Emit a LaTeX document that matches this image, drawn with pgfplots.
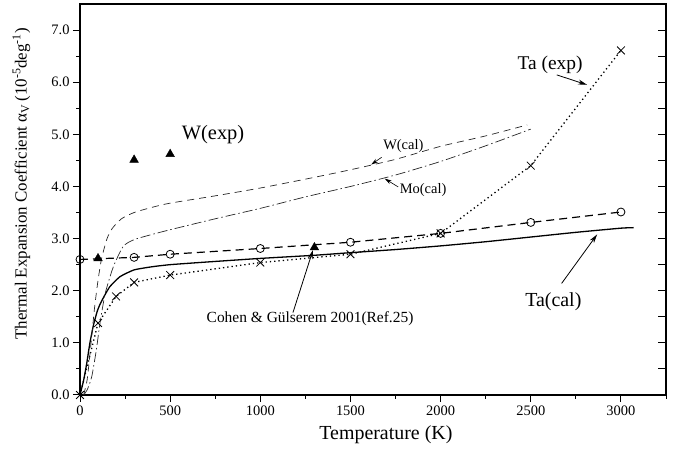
\documentclass[border=0pt]{standalone}
\usepackage{pgfplots}
\pgfplotsset{compat=1.18}
\usepackage{fontspec}
\setmainfont{Liberation Serif}
\usetikzlibrary{arrows.meta}

\begin{document}
\begin{tikzpicture}[x=1bp,y=1bp]
\useasboundingbox (0,0) rectangle (675,450);
\begin{axis}[
  at={(80bp,55bp)}, anchor=south west,
  scale only axis, width=586bp, height=391bp,
  xmin=0, xmax=3250, ymin=0, ymax=7.5,
  xtick={0,500,...,3000}, minor xtick={250,750,...,3250},
  ytick={0,1,...,7}, minor ytick={0.5,1.5,...,6.5},
  xtick pos=bottom, ytick pos=left, tick align=outside,
  major tick length=7bp, minor tick length=4bp,
  axis line style={line width=1.6bp},
  every tick/.style={black, line width=1bp},
  tick label style={font=\fontsize{14.5}{16}\selectfont},
  /pgf/number format/assume math mode=true,
  xticklabel style={/pgf/number format/1000 sep={}},
  yticklabel style={/pgf/number format/fixed, /pgf/number format/fixed zerofill, /pgf/number format/precision=1},
  xlabel={Temperature (K)},
  xlabel style={font=\fontsize{20}{22}\selectfont, at={(axis description cs:0.522,-0.102)}, anchor=center},
  ylabel={Thermal Expansion Coefficient α\textsubscript{V}\,(10\textsuperscript{-5}deg\textsuperscript{-1})},
  ylabel style={font=\fontsize{17}{19}\selectfont, at={(axis description cs:-0.1,0.54)}, anchor=center},
  clip=false,
]
% Ta(cal) solid
\addplot[black, line width=1.3bp, smooth, tension=0.3] coordinates {
 (0,0) (20,0.28) (37,0.6) (55,1.0) (74,1.33) (95,1.6) (111,1.74) (135,1.9) (166,2.08) (222,2.27) (300,2.40) (400,2.46) (500,2.50) (700,2.55) (1000,2.62) (1300,2.68) (1500,2.73) (1750,2.79) (2000,2.86) (2250,2.94) (2500,3.03) (2750,3.12) (3000,3.20) (3070,3.21)};
% Ta exp (circles), dashed
\addplot[black, line width=1.2bp, dash pattern=on 8bp off 5bp, mark=o, mark size=4bp, mark options={solid, fill=white, line width=0.8bp}] coordinates {
 (0,2.60) (300,2.64) (500,2.70) (1000,2.81) (1500,2.93) (2000,3.10) (2500,3.31) (3000,3.51)};
% Ta exp (crosses), dotted
\addplot[black, line width=1.3bp, dash pattern=on 1.3bp off 3bp, mark=x, mark size=5.5bp, mark options={solid, line width=0.8bp}] coordinates {
 (0,0) (100,1.38) (200,1.89) (300,2.16) (500,2.30) (1000,2.54) (1500,2.70) (2000,3.10) (2500,4.40) (3000,6.61)};
% W(cal) thin dashed
\addplot[black!85, line width=0.7bp, dash pattern=on 7bp off 5bp, smooth, tension=0.4] coordinates {
 (20,0) (40,0.3) (60,0.95) (80,1.65) (100,2.2) (120,2.62) (150,3.0) (180,3.2) (230,3.38) (300,3.5) (400,3.6) (500,3.68) (750,3.82) (1000,3.97) (1250,4.14) (1500,4.32) (1750,4.52) (2000,4.77) (2250,4.97) (2480,5.18)};
% Mo(cal) dash-dot
\addplot[black!85, line width=0.7bp, dash pattern=on 10bp off 3bp on 1.5bp off 3bp, smooth, tension=0.4] coordinates {
 (20,0) (40,0.1) (65,0.35) (90,0.85) (111,1.38) (140,1.95) (185,2.46) (240,2.85) (300,2.98) (400,3.08) (500,3.17) (750,3.38) (1000,3.58) (1250,3.80) (1500,4.0) (1750,4.22) (2000,4.48) (2250,4.78) (2500,5.10)};
% W(exp) triangles
\addplot[only marks, mark=triangle*, mark size=5bp, black] coordinates {(100,2.62) (300,4.51) (500,4.62)};
% Cohen & Gulserem
\addplot[only marks, mark=triangle*, mark size=5bp, black] coordinates {(1300,2.83)};

\node[font=\fontsize{20.5}{22}\selectfont] at (axis cs:738,4.99) {W(exp)};
\node[font=\fontsize{14.5}{16}\selectfont] at (axis cs:1793,4.77) {W(cal)};
\draw[-{Stealth[length=7bp,width=4bp]}, line width=0.6bp] (axis cs:1673,4.56) -- (axis cs:1615,4.42);
\node[font=\fontsize{14.5}{16}\selectfont] at (axis cs:1903,3.93) {Mo(cal)};
\draw[-{Stealth[length=7bp,width=4bp]}, line width=0.6bp] (axis cs:1765,3.99) -- (axis cs:1690,4.15);
\node[font=\fontsize{19.5}{21}\selectfont] at (axis cs:2607,6.33) {Ta (exp)};
\draw[-{Stealth[length=9bp,width=5bp]}, line width=0.8bp] (axis cs:2644,6.14) -- (axis cs:2812,5.95);
\node[font=\fontsize{20}{22}\selectfont] at (axis cs:2625,1.79) {Ta(cal)};
\draw[-{Stealth[length=9bp,width=5bp]}, line width=0.8bp] (axis cs:2671,2.14) -- (axis cs:2868,3.08);
\node[font=\fontsize{15.5}{17}\selectfont] at (axis cs:1276,1.46) {Cohen \& Gülserem 2001(Ref.25)};
\draw[-{Stealth[length=9bp,width=5bp]}, line width=0.8bp] (axis cs:1181,1.58) -- (axis cs:1292,2.78);
\end{axis}
% right-hand inward ticks
\begin{axis}[
  at={(80bp,55bp)}, anchor=south west,
  scale only axis, width=586bp, height=391bp,
  xmin=0, xmax=3250, ymin=0, ymax=7.5,
  axis x line=none, axis y line*=right,
  ytick={0,0.5,...,7.5}, yticklabels={},
  tick align=inside, major tick length=8bp,
  axis line style={line width=1.6bp},
  every tick/.style={black, line width=1bp},
]
\addplot[draw=none] coordinates {(0,0)};
\end{axis}
\end{tikzpicture}
\end{document}
